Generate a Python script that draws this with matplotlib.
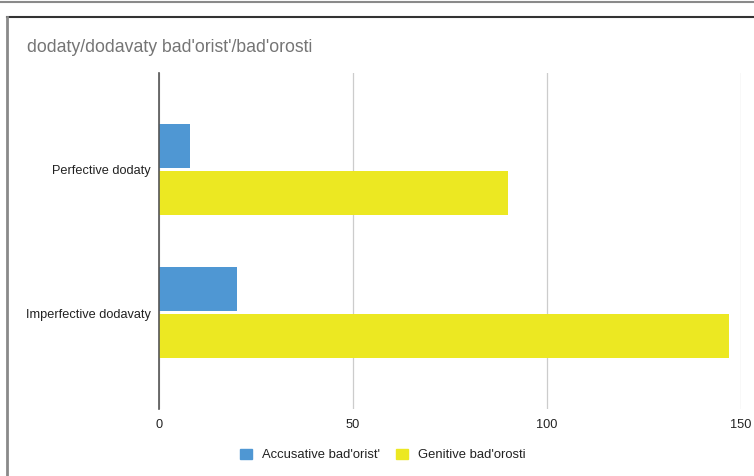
import matplotlib
matplotlib.use('Agg')
import matplotlib.pyplot as plt
from matplotlib.lines import Line2D
from matplotlib.patches import Patch

plt.rcParams['font.family'] = ['Liberation Sans', 'DejaVu Sans']

# data
categories = ['Perfective dodaty', 'Imperfective dodavaty']
accusative = [8, 20]
genitive = [90, 147]
series_names = ["Accusative bad'orist'", "Genitive bad'orosti"]
title = "dodaty/dodavaty bad'orist'/bad'orosti"
xticks = [0, 50, 100, 150]

BLUE = '#4f97d3'
YELLOW = '#ece822'

fig = plt.figure(figsize=(7.54, 4.76), dpi=100)

# screenshot frame: a thin line at the very top, then the card border
fig.add_artist(Line2D([0, 1], [1 - 1.5 / 476, 1 - 1.5 / 476], transform=fig.transFigure,
                      color='#8a8a8a', lw=1.5))
fig.add_artist(Line2D([7 / 754, 1], [1 - 17 / 476, 1 - 17 / 476], transform=fig.transFigure,
                      color='#333333', lw=1.5))
fig.add_artist(Line2D([7 / 754, 7 / 754], [0, 1 - 17 / 476], transform=fig.transFigure,
                      color='#8a8a8a', lw=2))

ax = fig.add_axes([159 / 754, (476 - 409) / 476, 582 / 754, 336 / 476])

pos = list(range(len(categories)))
h = 0.308
ax.barh([p - 0.166 for p in pos], accusative, height=h, color=BLUE, label=series_names[0])
ax.barh([p + 0.163 for p in pos], genitive, height=h, color=YELLOW, label=series_names[1])

ax.set_xlim(0, 150)
ax.set_ylim(1.671, -0.678)
ax.set_xticks(xticks)
ax.set_yticks(pos)
ax.set_yticklabels(categories)
ax.tick_params(axis='both', length=0, labelsize=9.2, colors='#222222')
ax.tick_params(axis='x', pad=7)
ax.tick_params(axis='y', pad=6)
for s in ['top', 'right', 'bottom']:
    ax.spines[s].set_visible(False)
ax.spines['left'].set_color('#555555')
ax.spines['left'].set_linewidth(1.2)
ax.xaxis.grid(True, color='#cccccc', lw=0.9)
ax.set_axisbelow(True)

fig.text(27 / 754, 1 - 47 / 476, title, fontsize=12.7, color='#757575', va='center')

handles = [Patch(color=BLUE), Patch(color=YELLOW)]
fig.legend(handles, series_names, loc='center', bbox_to_anchor=(383 / 754, 1 - 455 / 476),
           ncol=2, frameon=False, fontsize=9.4, handlelength=0.9, handleheight=0.9,
           handletextpad=0.8, columnspacing=1.2, labelcolor='#222222')

fig.savefig('out.png', dpi=100)
